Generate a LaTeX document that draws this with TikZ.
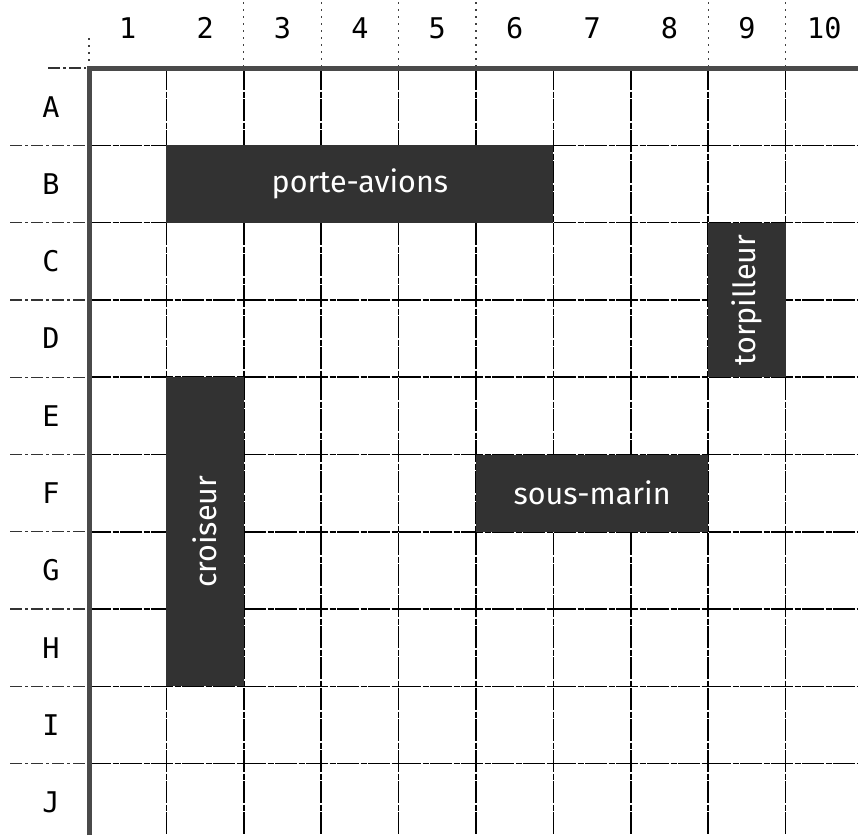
\documentclass[tikz,border=0pt]{standalone}
\usepackage{fontspec}
\newfontfamily\shipfont{Fira Sans}
\newfontfamily\labfont{DejaVu Sans Mono}
\definecolor{shipgray}{HTML}{323232}
\definecolor{bordergray}{HTML}{4A4A4A}
\begin{document}
\begin{tikzpicture}[x=1pt,y=-1pt,
  gridline/.style={line width=1.5pt, black, dash pattern=on 22pt off 1.5pt on 6pt off 1.5pt},
  extline/.style={line width=1.3pt, black!80, dash pattern=on 12pt off 3pt on 3pt off 3pt},
  dotline/.style={line width=1.3pt, black!75, dash pattern=on 2pt off 5pt},
  borderline/.style={line width=5pt, bordergray, line join=miter},
  ship/.style={fill=shipgray, draw=none, text=white, inner sep=0pt,
    font=\shipfont\fontsize{30.5}{32}\selectfont},
  lab/.style={font=\labfont\fontsize{28.5}{30}\selectfont, text=black, inner sep=0pt}
]
\useasboundingbox (0,0) rectangle (858,835);
\clip (0,0) rectangle (858,835);
% grid
\foreach \i in {1,...,9} {
  \draw[gridline] (89+77.4*\i,68) -- (89+77.4*\i,835);
  \draw[gridline] (89,68+77.3*\i) -- (858,68+77.3*\i);
  \draw[extline] (10,68+77.3*\i) -- (86,68+77.3*\i);
}
\draw[extline] (48,68) -- (86,68);
\foreach \i in {2,3,4,5,8,9} {
  \draw[dotline] (89+77.4*\i,2) -- (89+77.4*\i,66);
}
\draw[dotline] (89,38) -- (89,62);
% border
\draw[borderline] (89,835) -- (89,68) -- (858,68);
% ships
\node (porteavions) [ship, minimum width=387pt, minimum height=77.3pt] at (359.9,184) {porte-avions};
\node (torpilleur) [ship, minimum width=154.6pt, minimum height=77.4pt, rotate=90] at (746.9,299.9) {torpilleur};
\node (croiseur) [ship, minimum width=309.2pt, minimum height=77.4pt, rotate=90] at (205.1,531.8) {croiseur};
\node (sousmarin) [ship, minimum width=232.2pt, minimum height=77.3pt] at (592.1,493.2) {sous-marin};
% column labels
\foreach \n in {1,...,10} {
  \node (c\n) [lab] at (89+77.4*\n-38.7,28) {\n};
}
% row labels
\foreach \l [count=\j] in {A,B,C,D,E,F,G,H,I,J} {
  \node (r\l) [lab] at (51,68+77.3*\j-38.65) {\l};
}
\end{tikzpicture}
\end{document}
